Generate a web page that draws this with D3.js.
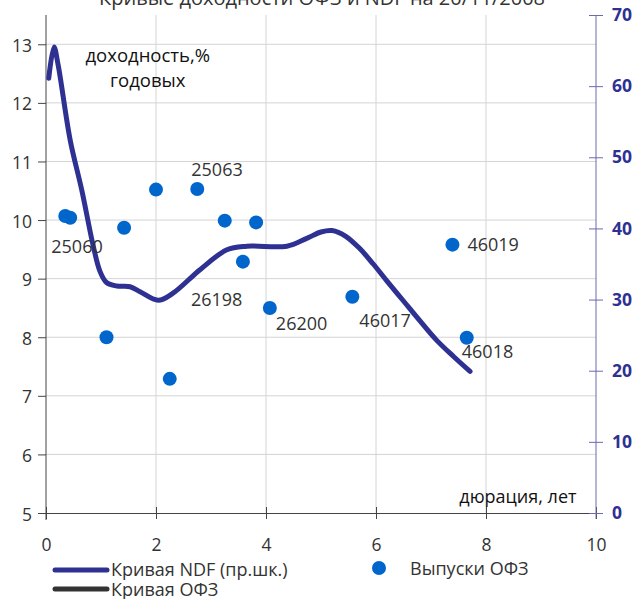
<!DOCTYPE html>
<html>
<head>
<meta charset="utf-8">
<script src="https://cdn.jsdelivr.net/npm/d3@7/dist/d3.min.js"></script>
<style>
	body { margin: 0; background: #fff; }
	svg { display: block; font-family: "Open Sans", "Noto Sans", sans-serif; }
</style>
</head>
<body>
<svg width="635" height="599"></svg>
<script>
// NDF curve, right axis
const ndfDur = [ 0.05, 0.145, 0.22, 0.44, 0.65, 0.86, 0.98, 1.10, 1.29, 1.53, 1.71, 2.04, 2.31, 2.80, 3.29, 3.65, 4.38, 4.74, 5.00, 5.20, 5.45, 5.70, 5.95, 6.20, 6.50, 6.80, 7.10, 7.41, 7.71 ];
const ndfYield = [ 61.1, 65.5, 63.0, 52.4, 45.4, 37.5, 34.0, 32.4, 31.9, 31.8, 31.1, 29.9, 30.9, 34.2, 37.0, 37.5, 37.5, 38.6, 39.5, 39.7, 38.9, 37.2, 35.0, 32.6, 29.8, 27.0, 24.3, 22.0, 19.9 ];

// OFZ issues, left axis
const ofzDur = [ 0.35, 0.44, 1.10, 1.42, 2.00, 2.25, 2.75, 3.25, 3.82, 3.58, 4.07, 5.57, 7.39, 7.65 ];
const ofzYield = [ 10.07, 10.04, 8.00, 9.87, 10.52, 7.29, 10.53, 9.99, 9.96, 9.29, 8.50, 8.69, 9.58, 7.99 ];
const ofzName = [ "25060", "", "", "", "", "", "25063", "", "", "26198", "26200", "46017", "46019", "46018" ];

const xTicks = [ 0, 2, 4, 6, 8, 10 ];
const yTicks = [ 5, 6, 7, 8, 9, 10, 11, 12, 13 ];
const y2Ticks = [ 0, 10, 20, 30, 40, 50, 60, 70 ];

const svg = d3.select( "svg" );
const margin = { top: 15, right: 39, bottom: 86, left: 46 };
const w = 635 - margin.left - margin.right, h = 599 - margin.top - margin.bottom;
const g = svg.append( "g" ).attr( "transform", "translate(" + margin.left + "," + margin.top + ")" );

const x = d3.scaleLinear().domain( [ 0, 10 ] ).range( [ 0, w ] );
const y = d3.scaleLinear().domain( [ 5, 13.5 ] ).range( [ h, 0 ] );
const y2 = d3.scaleLinear().domain( [ 0, 70 ] ).range( [ h, 0 ] );

const navy = "#2e3192", dot = "#0066cc", txt = "#333";

// title (cut at the top in the original)
svg.append( "text" )
	.attr( "x", 322 ).attr( "y", 5 )
	.attr( "text-anchor", "middle" )
	.style( "font-size", "20px" ).style( "fill", txt )
	.text( "Кривые доходности ОФЗ и NDF на 20/11/2008" );

// grid
g.append( "g" ).selectAll( "line" )
	.data( yTicks.slice( 1 ) )
	.enter().append( "line" )
	.attr( "x1", 0 ).attr( "x2", w )
	.attr( "y1", d => y( d ) ).attr( "y2", d => y( d ) )
	.style( "stroke", "#d4d4d4" );
g.append( "g" ).selectAll( "line" )
	.data( xTicks.slice( 1, -1 ) )
	.enter().append( "line" )
	.attr( "x1", d => x( d ) ).attr( "x2", d => x( d ) )
	.attr( "y1", 0 ).attr( "y2", h )
	.style( "stroke", "#d4d4d4" );

// axes
let ax = g.append( "g" )
	.attr( "transform", "translate(0," + h + ")" )
	.call( d3.axisBottom( x ).tickValues( xTicks ).tickSizeInner( 12 ).tickSizeOuter( 0 ).tickPadding( 14 ) );
ax.selectAll( ".tick line" ).attr( "y1", -6 ).attr( "y2", 6 );

let ay = g.append( "g" )
	.call( d3.axisLeft( y ).tickValues( yTicks ).tickSizeInner( 8 ).tickSizeOuter( 0 ).tickPadding( 6 ) );
ay.selectAll( ".tick text" ).attr( "dy", "0.4em" );

let ay2 = g.append( "g" )
	.attr( "transform", "translate(" + w + ",0)" )
	.call( d3.axisRight( y2 ).tickValues( y2Ticks ).tickSizeInner( 7 ).tickSizeOuter( 0 ).tickPadding( 9 ) );
ay2.selectAll( ".tick line" ).attr( "x1", -7 ).attr( "x2", 7 );
ay2.select( ".domain" ).attr( "d", "M0,0V" + ( h + 6 ) );

[ ax, ay, ay2 ].forEach( a => {
	a.selectAll( "text" ).style( "font-size", "17.5px" ).style( "font-family", "\"Open Sans\", sans-serif" );
});
ax.selectAll( ".domain, line" ).style( "stroke", "#444" );
ay.selectAll( ".domain, line" ).style( "stroke", "#444" );
ay.select( ".domain" ).attr( "d", "M0,0V" + ( h + 7 ) );
ax.selectAll( "text" ).style( "fill", txt );
ay.selectAll( "text" ).style( "fill", txt );
ay2.selectAll( ".domain, line" ).style( "stroke", "#6a6aaf" );
ay2.selectAll( "text" ).style( "fill", navy ).style( "font-weight", "bold" );

// axis titles
g.append( "text" ).attr( "x", x( 1.85 ) ).attr( "y", 47 )
	.attr( "text-anchor", "middle" ).style( "font-size", "18.5px" ).style( "fill", "#111" )
	.text( "доходность,%" );
g.append( "text" ).attr( "x", x( 1.85 ) ).attr( "y", 72 )
	.attr( "text-anchor", "middle" ).style( "font-size", "18.5px" ).style( "fill", "#111" )
	.text( "годовых" );
g.append( "text" ).attr( "x", x( 8.58 ) ).attr( "y", h - 10 )
	.attr( "text-anchor", "middle" ).style( "font-size", "18px" ).style( "fill", "#111" )
	.text( "дюрация, лет" );

// NDF line
let line = d3.line()
	.curve( d3.curveCatmullRom.alpha( 0.5 ) )
	.x( ( d, i ) => x( ndfDur[ i ] ) )
	.y( d => y2( d ) );
g.append( "path" )
	.datum( ndfYield )
	.attr( "d", line )
	.style( "fill", "none" ).style( "stroke", navy )
	.style( "stroke-width", 5 ).style( "stroke-linecap", "round" ).style( "stroke-linejoin", "round" );

// OFZ dots
g.append( "g" ).selectAll( "circle" )
	.data( ofzYield )
	.enter().append( "circle" )
	.attr( "cx", ( d, i ) => x( ofzDur[ i ] ) )
	.attr( "cy", d => y( d ) )
	.attr( "r", 7 )
	.style( "fill", dot );

// labels: offset from the dot
const lblOff = { "25060": [ -14, 37 ], "25063": [ -6, -13 ], "26198": [ -52, 44 ], "26200": [ 6, 22 ], "46017": [ 7, 30 ], "46019": [ 15, 6 ], "46018": [ -5, 20 ] };
g.append( "g" ).selectAll( "text" )
	.data( ofzName )
	.enter().filter( d => d ).append( "text" )
	.attr( "x", d => x( ofzDur[ ofzName.indexOf( d ) ] ) + lblOff[ d ][ 0 ] )
	.attr( "y", d => y( ofzYield[ ofzName.indexOf( d ) ] ) + lblOff[ d ][ 1 ] )
	.style( "font-size", "18px" ).style( "fill", txt )
	.text( d => d );

// legend
let lg = svg.append( "g" );
lg.append( "line" ).attr( "x1", 55 ).attr( "x2", 107 ).attr( "y1", 570 ).attr( "y2", 570 )
	.style( "stroke", navy ).style( "stroke-width", 5 ).style( "stroke-linecap", "round" );
lg.append( "text" ).attr( "x", 111 ).attr( "y", 576 ).style( "font-size", "18px" ).style( "fill", txt )
	.text( "Кривая NDF (пр.шк.)" );
lg.append( "line" ).attr( "x1", 55 ).attr( "x2", 107 ).attr( "y1", 589 ).attr( "y2", 589 )
	.style( "stroke", "#333" ).style( "stroke-width", 5 ).style( "stroke-linecap", "round" );
lg.append( "text" ).attr( "x", 111 ).attr( "y", 596 ).style( "font-size", "18px" ).style( "fill", txt )
	.text( "Кривая ОФЗ" );
lg.append( "circle" ).attr( "cx", 379 ).attr( "cy", 568 ).attr( "r", 7 ).style( "fill", dot );
lg.append( "text" ).attr( "x", 410 ).attr( "y", 575 ).style( "font-size", "18px" ).style( "fill", txt )
	.text( "Выпуски ОФЗ" );
</script>
</body>
</html>
